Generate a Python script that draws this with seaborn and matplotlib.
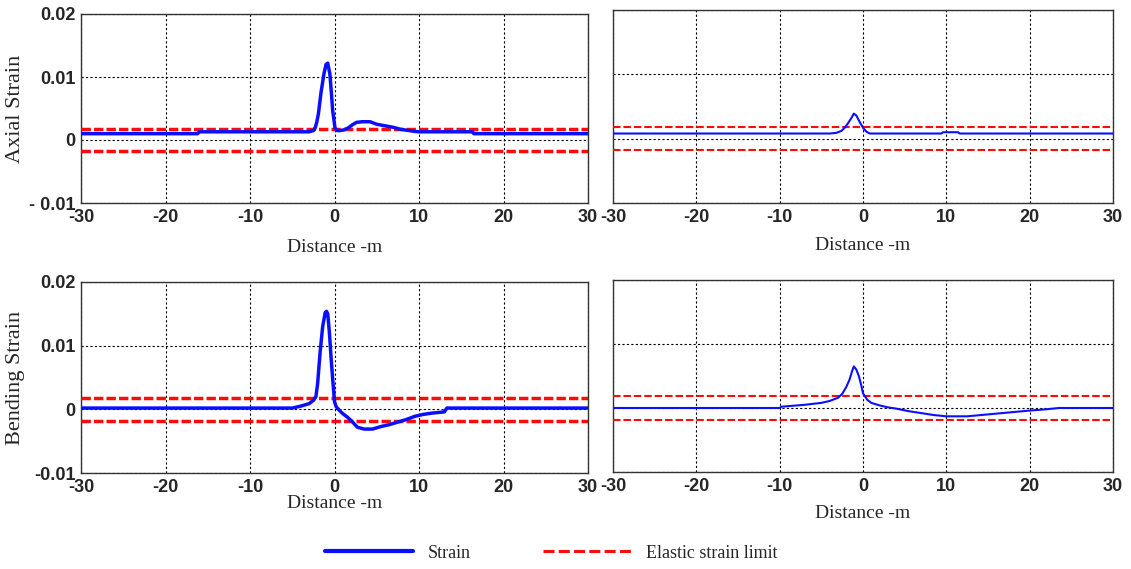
import numpy as np
import pandas as pd
import matplotlib
matplotlib.use("Agg")
import matplotlib.pyplot as plt
import seaborn as sns
from matplotlib.lines import Line2D

# ---------------- data ----------------
x_ticks = [-30, -20, -10, 0, 10, 20, 30]
x_tick_labels = ["-30", "-20", "-10", "0", "10", "20", "30"]
y_ticks = [-0.01, 0.0, 0.01, 0.02]
y_tick_labels_top = ["- 0.01", "0", "0.01", "0.02"]
y_tick_labels_bottom = ["-0.01", "0", "0.01", "0.02"]

# axial strain, left case
axial_left_x = [-30, -16.2, -16.0, -3.0, -2.5, -2.3, -2.1, -1.9, -1.6, -1.25, -1.0, -0.8,
                -0.55, -0.35, -0.22, 0.06, 0.3, 0.65, 1.1, 1.6, 2.1, 2.6, 3.3, 4.2,
                5.0, 6.2, 7.0, 7.8, 9.3, 10.0, 16.3, 16.5, 30]
axial_left_y = [0.0010, 0.0010, 0.0013, 0.0013, 0.0015, 0.0019, 0.0028, 0.0042, 0.0075,
                0.0105, 0.0120, 0.0122, 0.0105, 0.0072, 0.0047, 0.0019, 0.0015, 0.0015,
                0.0016, 0.0019, 0.0024, 0.0028, 0.0029, 0.0029, 0.0025, 0.0022, 0.0020,
                0.0017, 0.0014, 0.0013, 0.0013, 0.0010, 0.0010]

# axial strain, right case
axial_right_x = [-30, -4.0, -3.2, -2.6, -2.2, -1.8, -1.4, -1.1, -0.8, -0.4, 0.0, 0.4, 0.8,
                 9.4, 9.6, 11.4, 11.6, 30]
axial_right_y = [0.0008, 0.0008, 0.0009, 0.0012, 0.0017, 0.0024, 0.0032, 0.0039, 0.0036,
                 0.0026, 0.0017, 0.0011, 0.0008, 0.0008, 0.0010, 0.0010, 0.0008, 0.0008]

# bending strain, left case
bending_left_x = [-30, -5, -4, -3, -2.5, -2.2, -2.0, -1.7, -1.4, -1.1, -0.95, -0.8, -0.6,
                  -0.4, -0.2, 0, 0.2, 0.6, 1.0, 1.5, 2.0, 2.7, 3.5, 4.5, 5.5, 6.5, 7.5,
                  8.5, 9.5, 10.5, 11.5, 13.0, 13.3, 30]
bending_left_y = [0.0002, 0.0002, 0.0005, 0.0009, 0.0014, 0.0020, 0.0040, 0.0090, 0.0130,
                  0.0152, 0.0154, 0.0150, 0.0120, 0.0080, 0.0045, 0.0012, 0.0004, -0.0002,
                  -0.0007, -0.0012, -0.0018, -0.0028, -0.0031, -0.0031, -0.0027, -0.0024,
                  -0.0020, -0.0016, -0.0011, -0.0008, -0.0006, -0.0004, 0.0002, 0.0002]

# bending strain, right case
bending_right_x = [-30, -10, -9.8, -7, -5, -4, -3, -2.5, -2, -1.6, -1.3, -1.1, -0.8, -0.5,
                   -0.2, 0, 0.5, 1, 2, 3, 4, 5.5, 7, 8.5, 10, 12.5, 15, 17.5, 20, 22,
                   23.5, 30]
bending_right_y = [0.0000, 0.0000, 0.0002, 0.0005, 0.0008, 0.0011, 0.0016, 0.0022, 0.0033,
                   0.0045, 0.0058, 0.0065, 0.0060, 0.0050, 0.0035, 0.0023, 0.0013, 0.0008,
                   0.0004, 0.0001, -0.0001, -0.0005, -0.0008, -0.0011, -0.0013, -0.0013,
                   -0.0010, -0.0007, -0.0004, -0.0002, 0.0000, 0.0000]

elastic_limits = [0.0018, -0.0018]

x_label = "Distance -m"
y_labels = ["Axial Strain", "Bending Strain"]
legend_labels = ["Strain", "Elastic strain limit"]

# ---------------- style ----------------
sns.set_style("white")
plt.rcParams["font.family"] = ["Liberation Serif", "DejaVu Serif"]

W, H = 1131, 569
fig = plt.figure(figsize=(W / 100, H / 100), dpi=100)

def frac_rect(x0, y0, x1, y1):
    return [x0 / W, 1 - y1 / H, (x1 - x0) / W, (y1 - y0) / H]

panels = [
    dict(rect=frac_rect(81, 14, 588, 203), x=axial_left_x, y=axial_left_y, thick=True,
         ylabel=y_labels[0], ylabels=y_tick_labels_top, xlab_y=247),
    dict(rect=frac_rect(613, 10, 1113, 203), x=axial_right_x, y=axial_right_y, thick=False,
         ylabel=None, ylabels=None, xlab_y=245),
    dict(rect=frac_rect(81, 282, 588, 473), x=bending_left_x, y=bending_left_y, thick=True,
         ylabel=y_labels[1], ylabels=y_tick_labels_bottom, xlab_y=504),
    dict(rect=frac_rect(613, 280, 1113, 472), x=bending_right_x, y=bending_right_y, thick=False,
         ylabel=None, ylabels=None, xlab_y=514),
]

tick_font = dict(family=["Liberation Sans", "DejaVu Sans"], weight="bold", size=13)
blue = "#0a10ff"
red = "#ff0a0a"

for p in panels:
    ax = fig.add_axes(p["rect"])
    df = pd.DataFrame({"x": p["x"], "y": p["y"]})
    lw_blue = 2.5 if p["thick"] else 1.5
    lw_red = 2.5 if p["thick"] else 1.5
    dash = (0, (2.7, 0.9)) if p["thick"] else (0, (3.6, 1.4))
    for lim in elastic_limits:
        ax.axhline(lim, color=red, lw=lw_red, linestyle=dash, zorder=3)
    sns.lineplot(data=df, x="x", y="y", ax=ax, color=blue, lw=lw_blue,
                 estimator=None, sort=False, zorder=4)
    ax.set_xlim(-30, 30)
    ax.set_ylim(-0.01, 0.02)
    ax.set_xticks(x_ticks)
    ax.set_yticks(y_ticks)
    ax.set_xticklabels(x_tick_labels, fontdict=tick_font)
    if p["ylabels"] is not None:
        ax.set_yticklabels(p["ylabels"], fontdict=tick_font)
        ax.set_ylabel(p["ylabel"], fontsize=16)
        ax.yaxis.label.set_va("center")
        ax.yaxis.set_label_coords((16 - 81) / 507, 0.5)
    else:
        ax.set_yticklabels([])
        ax.set_ylabel("")
    ax.tick_params(axis="both", length=0, pad=4)
    ax.grid(True, color="black", lw=0.8, linestyle=(0, (2, 2)))
    for s in ax.spines.values():
        s.set_color("#333333")
        s.set_linewidth(1.0)
        s.set_visible(True)
    ax.set_xlabel(x_label, fontsize=14)
    bbox = p["rect"]
    ax_h_px = bbox[3] * H
    ax_bottom_px = (1 - bbox[1]) * H
    ax.xaxis.label.set_va("center")
    ax.xaxis.set_label_coords(0.5, -(p["xlab_y"] - ax_bottom_px) / ax_h_px)

h_strain = Line2D([], [], color=blue, lw=3.0)
h_limit = Line2D([], [], color=red, lw=2.2, linestyle=(0, (3.6, 1.4)))
fig.legend([h_strain, h_limit], legend_labels, loc="center", ncol=2,
           bbox_to_anchor=(0.487, 0.028), frameon=False, fontsize=13,
           handlelength=4.9, handletextpad=0.8, columnspacing=4.0)

fig.savefig("out.png", dpi=100)
